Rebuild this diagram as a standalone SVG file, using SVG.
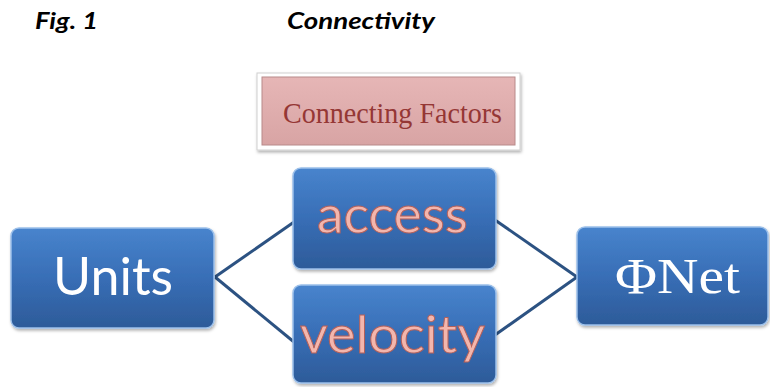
<svg xmlns="http://www.w3.org/2000/svg" width="770" height="387" viewBox="0 0 770 387">
<defs>
<linearGradient id="blue" x1="0" y1="0" x2="0" y2="1">
<stop offset="0" stop-color="#4884cd"/>
<stop offset="0.5" stop-color="#386eb6"/>
<stop offset="1" stop-color="#2d5b99"/>
</linearGradient>
<linearGradient id="pink" x1="0" y1="0" x2="0" y2="1">
<stop offset="0" stop-color="#e6b6b6"/>
<stop offset="1" stop-color="#d8a4a4"/>
</linearGradient>
<filter id="sh" x="-10%" y="-10%" width="120%" height="130%">
<feDropShadow dx="1" dy="2" stdDeviation="1.5" flood-color="#000" flood-opacity="0.3"/>
</filter>
</defs>
<style>
.box{fill:url(#blue);stroke:#9cc0ea;stroke-width:1.5;filter:url(#sh)}
.edge{stroke:#2c5282;stroke-width:3;fill:none}
.sans{font-family:"Lato","Open Sans","Liberation Sans",sans-serif}
.serif{font-family:"Liberation Serif","Times New Roman",serif}
.pinktxt{fill:#f3b6ad;stroke:#b4605a;stroke-width:1}
</style>
<g id="title" class="sans" font-weight="bold" font-style="italic" font-size="23" fill="#000">
<text x="35" y="29" textLength="63" lengthAdjust="spacingAndGlyphs">Fig. 1</text>
<text x="287" y="29" textLength="148" lengthAdjust="spacingAndGlyphs">Connectivity</text>
</g>
<g id="connectors">
<line class="edge" x1="215" y1="277" x2="294" y2="222"/>
<line class="edge" x1="215" y1="277" x2="294" y2="342"/>
<line class="edge" x1="495" y1="220" x2="577" y2="277"/>
<line class="edge" x1="495" y1="335" x2="577" y2="277"/>
</g>
<g id="connecting-factors">
<rect x="257" y="73" width="263" height="77" fill="#fff" stroke="#d0d0d0" stroke-width="1" filter="url(#sh)"/>
<rect x="262" y="77" width="253" height="68" fill="url(#pink)" stroke="#b88a8a" stroke-width="1"/>
<text class="serif" x="283" y="123" font-size="29" fill="#953735" textLength="219" lengthAdjust="spacingAndGlyphs">Connecting Factors</text>
</g>
<g id="units">
<rect class="box" x="11" y="228" width="203" height="100" rx="8"/>
<text class="sans" x="53" y="295" font-size="53" fill="#fff" textLength="120" lengthAdjust="spacingAndGlyphs">Units</text>
</g>
<g id="access">
<rect class="box" x="293" y="168" width="203" height="101" rx="8"/>
<text class="sans pinktxt" x="317" y="233" font-size="53" textLength="151" lengthAdjust="spacingAndGlyphs">access</text>
</g>
<g id="velocity">
<rect class="box" x="293" y="285" width="203" height="98" rx="8"/>
<text class="sans pinktxt" x="300" y="353" font-size="53" textLength="185" lengthAdjust="spacingAndGlyphs">velocity</text>
</g>
<g id="phinet">
<rect class="box" x="577" y="227" width="191" height="98" rx="8"/>
<text class="serif" x="615" y="293" font-size="50" fill="#fff" textLength="125" lengthAdjust="spacingAndGlyphs">ΦNet</text>
</g>
</svg>
